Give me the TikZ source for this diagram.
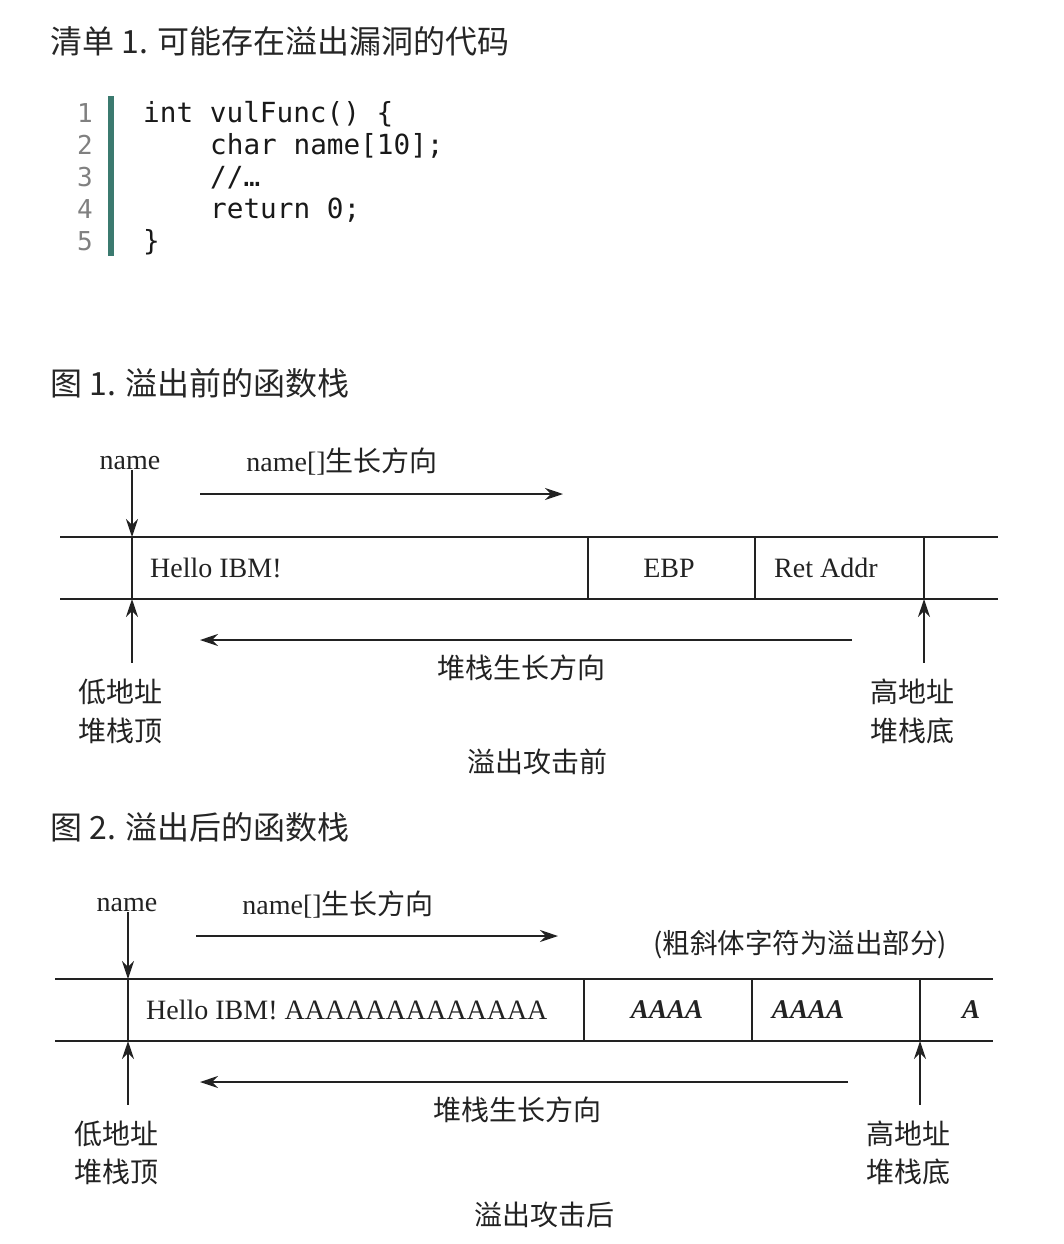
\documentclass[tikz,border=0pt]{standalone}
\usepackage{fontspec}
\setmainfont{Liberation Serif}
\newfontfamily\cjk{Noto Sans CJK SC}
\newfontfamily\codefont{DejaVu Sans Mono}
\usepackage{xcolor}
\usepackage{tikz}
\usetikzlibrary{arrows.meta,positioning}
\definecolor{barteal}{HTML}{3B7A6F}
\definecolor{ink}{HTML}{222222}

\begin{document}
\begin{tikzpicture}[x=1pt,y=-1pt,>=Stealth,
  title/.style={anchor=base west,inner sep=0,font=\cjk\fontsize{32}{36}\selectfont,text=black!85},
  lnum/.style={anchor=base east,inner sep=0,font=\codefont\fontsize{26}{32}\selectfont,text=black!50},
  code/.style={anchor=base west,inner sep=0,font=\codefont\fontsize{27.7}{32}\selectfont,text=black!90},
  lbl/.style={inner sep=0,font=\fontsize{28}{32}\selectfont,text=ink},
  zh/.style={inner sep=0,font=\cjk\fontsize{28}{34}\selectfont,text=ink},
  bi/.style={inner sep=0,font=\fontsize{27}{32}\selectfont\bfseries\itshape,text=ink},
  rule/.style={line width=2pt,draw=ink},
  arr/.style={line width=1.8pt,draw=ink,-{Stealth[length=18pt,width=12pt,inset=6pt]}}]
\useasboundingbox (0,0) rectangle (1064,1244);
% listing
\node[title] (list) at (50,54) {清单 1. 可能存在溢出漏洞的代码};
\foreach \i/\y in {1/122,2/154,3/186,4/218,5/250}
  \node[lnum] (ln\i) at (93,\y) {\i};
\fill[barteal] (108,96) rectangle (114,256);
\node[code] (cl1) at (143,122) {int vulFunc() \{};
\node[code] (cl2) at (210,154) {char name[10];};
\node[code] (cl3) at (210,186) {//…};
\node[code] (cl4) at (210,218) {return 0;};
\node[code] (cl5) at (143,250) {\}};

% figure 1
\node[title] (fig1) at (50,395) {图 1. 溢出前的函数栈};
\node[lbl] (nm1) at (130,463) {name};
\node[lbl] (gr1) at (342,462) {name[]{\cjk 生长方向}};
\coordinate (gr1a) at (200,494);
\coordinate (gr1b) at (563,494);
\draw[arr] (gr1a) -- (gr1b);
\coordinate (tl1) at (60,537);
\coordinate (tr1) at (998,537);
\coordinate (bl1) at (60,599);
\coordinate (br1) at (998,599);
\draw[rule] (tl1) -- (tr1);
\draw[rule] (bl1) -- (br1);
\foreach \x/\k in {132/1,588/2,755/3,924/4} {
  \coordinate (ut\k) at (\x,537);
  \coordinate (ub\k) at (\x,599);
  \draw[rule] (ut\k) -- (ub\k);
}
\node[lbl,anchor=west] (hello1) at (150,568) {Hello IBM!};
\node[lbl] (ebp1) at (669,568) {EBP};
\node[lbl,anchor=west] (ret1) at (774,568) {Ret Addr};
\draw[arr] (nm1.south -| ut1) -- (ut1);
\coordinate (st1a) at (852,640);
\coordinate (st1b) at (200,640);
\draw[arr] (st1a) -- (st1b);
\node[zh] (stk1) at (521,668) {堆栈生长方向};
\node[zh] (low1) at (120,692) {低地址};
\node[zh] (top1) at (120,731) {堆栈顶};
\node[zh] (high1) at (912,692) {高地址};
\node[zh] (bot1) at (912,731) {堆栈底};
\draw[arr,shorten <=16pt] (low1.north -| ub1) -- (ub1);
\draw[arr,shorten <=16pt] (high1.north -| ub4) -- (ub4);
\node[zh] (cap1) at (537,762) {溢出攻击前};

% figure 2
\node[title] (fig2) at (50,839) {图 2. 溢出后的函数栈};
\node[lbl] (nm2) at (127,905) {name};
\node[lbl] (gr2) at (338,905) {name[]{\cjk 生长方向}};
\coordinate (gr2a) at (196,936);
\coordinate (gr2b) at (558,936);
\draw[arr] (gr2a) -- (gr2b);
\node[zh,font=\cjk\fontsize{27.5}{32}\selectfont] (note2) at (800,945) {(粗斜体字符为溢出部分)};
\coordinate (tl2) at (55,979);
\coordinate (tr2) at (993,979);
\coordinate (bl2) at (55,1041);
\coordinate (br2) at (993,1041);
\draw[rule] (tl2) -- (tr2);
\draw[rule] (bl2) -- (br2);
\foreach \x/\k in {128/1,584/2,752/3,920/4} {
  \coordinate (vt\k) at (\x,979);
  \coordinate (vb\k) at (\x,1041);
  \draw[rule] (vt\k) -- (vb\k);
}
\node[lbl,anchor=west] (hello2) at (146,1010) {Hello IBM! AAAAAAAAAAAAA};
\node[bi] (ov2a) at (667,1010) {AAAA};
\node[bi] (ov2b) at (808,1010) {AAAA};
\node[bi] (ov2c) at (971,1010) {A};
\draw[arr] (nm2.south -| vt1) -- (vt1);
\coordinate (st2a) at (848,1082);
\coordinate (st2b) at (200,1082);
\draw[arr] (st2a) -- (st2b);
\node[zh] (stk2) at (517,1110) {堆栈生长方向};
\node[zh] (low2) at (116,1134) {低地址};
\node[zh] (top2) at (116,1172) {堆栈顶};
\node[zh] (high2) at (908,1134) {高地址};
\node[zh] (bot2) at (908,1172) {堆栈底};
\draw[arr,shorten <=16pt] (low2.north -| vb1) -- (vb1);
\draw[arr,shorten <=16pt] (high2.north -| vb4) -- (vb4);
\node[zh] (cap2) at (544,1215) {溢出攻击后};
\end{tikzpicture}
\end{document}
